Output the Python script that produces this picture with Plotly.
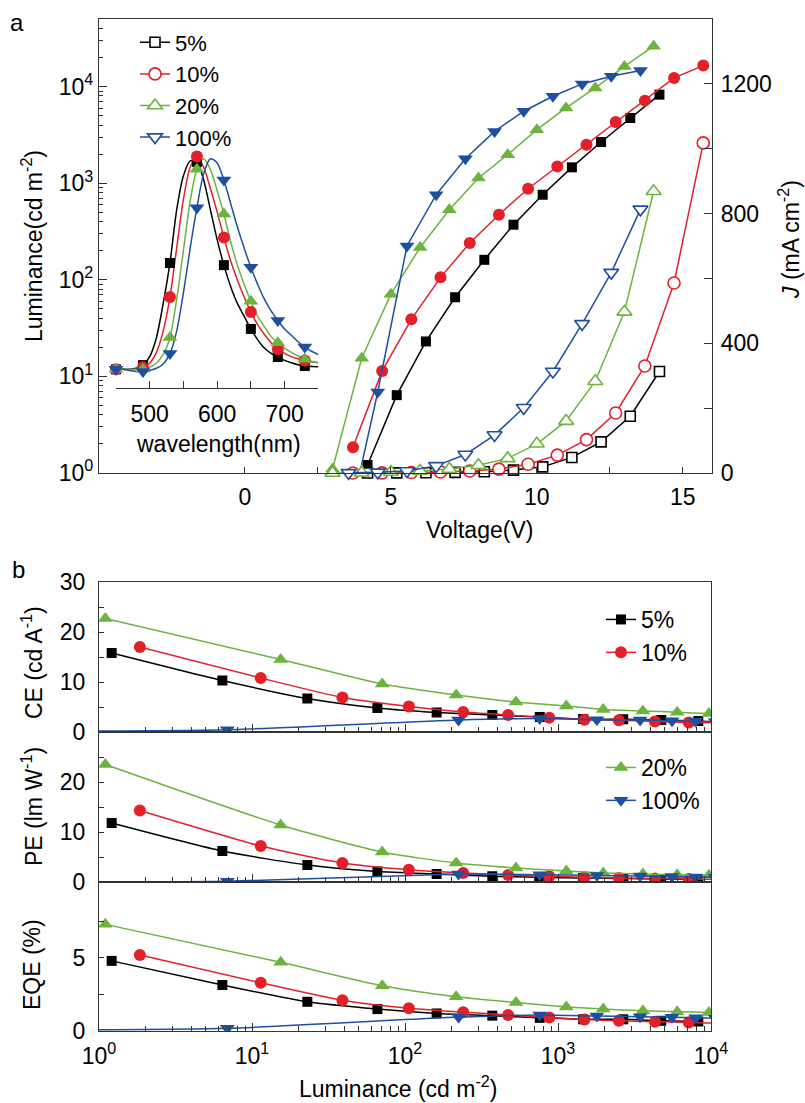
import plotly.graph_objects as go

# ---------------- data: panel a (J-V-L) ----------------
V_5 = [4.2, 5.2, 6.2, 7.2, 8.2, 9.2, 10.2, 11.2, 12.2, 13.2, 14.2]
L_5 = [1.21, 6.4, 23, 66, 161, 372, 760, 1460, 2670, 4730, 8260]
J_5 = [0, 0.5, 1, 2, 4, 9, 19, 48, 96, 175, 313]

V_10 = [3.7, 4.7, 5.7, 6.7, 7.7, 8.7, 9.7, 10.7, 11.7, 12.7, 13.7, 14.7, 15.7]
L_10 = [1.85, 11.4, 39, 106, 240, 472, 877, 1490, 2500, 4300, 7160, 12300, 16500]
J_10 = [0, 0.5, 1.5, 3, 6, 12, 27, 55, 103, 185, 330, 586, 1018]

V_20 = [3.0, 4.0, 5.0, 6.0, 7.0, 8.0, 9.0, 10.0, 11.0, 12.0, 13.0, 14.0]
L_20 = [1.1, 15.4, 71, 216, 531, 1133, 1974, 3585, 6010, 9690, 16200, 26200]
J_20 = [0, 1, 3, 6, 12, 24, 45, 90, 160, 283, 497, 869]

V_100 = [3.55, 4.55, 5.55, 6.55, 7.55, 8.55, 9.55, 10.55, 11.55, 12.55, 13.55]
L_100 = [0.3, 6.9, 224, 760, 1795, 3440, 5560, 7940, 10670, 12800, 14650]
J_100 = [0.5, 2, 6, 22, 57, 117, 201, 313, 460, 618, 813]

# ---------------- data: inset EL spectra (normalized) ----------------
WL = list(range(450, 751, 10))
S_5 = [0, 0, 0, 0.005, 0.02, 0.06, 0.15, 0.31, 0.5, 0.75, 0.91, 0.98, 0.975, 0.89, 0.75, 0.61,
       0.49, 0.39, 0.31, 0.25, 0.19, 0.14, 0.10, 0.075, 0.058, 0.042, 0.031, 0.022, 0.016, 0.013, 0.012]
S_10 = [0, 0, 0, 0, 0.01, 0.03, 0.08, 0.18, 0.34, 0.57, 0.80, 0.95, 1.0, 0.95, 0.85, 0.74,
        0.62, 0.51, 0.42, 0.34, 0.27, 0.21, 0.165, 0.125, 0.095, 0.075, 0.06, 0.05, 0.042, 0.036, 0.032]
S_20 = [0, 0, 0, 0, 0, 0.01, 0.03, 0.07, 0.15, 0.33, 0.56, 0.79, 0.94, 0.99, 0.94, 0.84,
        0.73, 0.60, 0.49, 0.40, 0.32, 0.25, 0.20, 0.155, 0.125, 0.10, 0.08, 0.063, 0.048, 0.038, 0.03]
S_100 = [0, 0, -0.005, -0.01, -0.01, -0.005, 0.005, 0.025, 0.075, 0.18, 0.36, 0.57, 0.76, 0.92, 0.99, 0.97,
         0.89, 0.78, 0.67, 0.57, 0.48, 0.40, 0.33, 0.275, 0.23, 0.19, 0.16, 0.13, 0.105, 0.085, 0.07]

# ---------------- data: panel b (efficiencies vs luminance) ----------------
CE_5 = [15.8, 10.3, 6.7, 4.8, 3.9, 3.4, 3.0, 2.6, 2.55, 2.4, 2.2]
CE_10 = [17.0, 10.8, 6.9, 5.1, 4.0, 3.4, 2.85, 2.45, 2.35, 2.1, 1.9, 1.8, 1.7]
CE_20 = [22.7, 14.5, 9.6, 7.4, 6.0, 5.2, 4.5, 4.2, 3.95, 3.7, 3.5, 3.3]
CE_100 = [0.12, 0.45, 2.4, 2.7, 2.45, 2.4, 2.25, 2.15, 2.1, 2.05, 2.0]

PE_5 = [11.8, 6.2, 3.4, 2.1, 1.6, 1.15, 0.95, 0.8, 0.7, 0.6, 0.5]
PE_10 = [14.3, 7.2, 3.8, 2.45, 1.8, 1.4, 1.15, 0.95, 0.8, 0.7, 0.6, 0.5, 0.45]
PE_20 = [23.5, 11.4, 6.0, 3.8, 2.8, 2.2, 1.8, 1.6, 1.45, 1.35, 1.2, 1.1]
PE_100 = [0.05, 0.15, 1.6, 1.45, 1.3, 1.2, 1.1, 1.0, 0.95, 0.9, 0.85]

EQE_5 = [4.8, 3.15, 2.0, 1.5, 1.2, 1.05, 0.9, 0.8, 0.8, 0.7, 0.65]
EQE_10 = [5.2, 3.3, 2.1, 1.55, 1.28, 1.1, 0.92, 0.78, 0.7, 0.64, 0.58, 0.53, 0.5]
EQE_20 = [7.3, 4.7, 3.1, 2.35, 1.95, 1.65, 1.5, 1.38, 1.32, 1.27, 1.2, 1.15]
EQE_100 = [0.05, 0.18, 0.95, 1.1, 1.03, 0.98, 0.94, 0.91, 0.88, 0.85, 0.82]

NAMES = ['5%', '10%', '20%', '100%']
COLORS = ['#000000', '#E3202A', '#6CB33F', '#1F4FA0']
SYMBOLS = ['square', 'circle', 'triangle-up', 'triangle-down']
MSIZE = [10, 12, 13, 13]

# ---------------- layout helpers ----------------
W, H = 805, 1103
def px(x): return x / W
def py(y): return 1 - y / H

FONT = 'Liberation Sans, Arial, Helvetica, sans-serif'
FS = 23
AX = '#333333'
TF = dict(family=FONT, size=FS, color='black')

fig = go.Figure()

Vs = [V_5, V_10, V_20, V_100]
Ls = [L_5, L_10, L_20, L_100]
Js = [J_5, J_10, J_20, J_100]
Ss = [S_5, S_10, S_20, S_100]
CEs = [CE_5, CE_10, CE_20, CE_100]
PEs = [PE_5, PE_10, PE_20, PE_100]
EQEs = [EQE_5, EQE_10, EQE_20, EQE_100]

# panel a: luminance (filled markers)
for i in range(4):
    fig.add_trace(go.Scatter(x=Vs[i], y=Ls[i], xaxis='x', yaxis='y', mode='lines+markers',
                             line=dict(color=COLORS[i], width=1.5),
                             marker=dict(symbol=SYMBOLS[i], size=MSIZE[i], color=COLORS[i], line=dict(width=0)),
                             showlegend=False, name=NAMES[i]))
# panel a: current density (open markers)
for i in range(4):
    fig.add_trace(go.Scatter(x=Vs[i], y=Js[i], xaxis='x', yaxis='y2', mode='lines+markers',
                             line=dict(color=COLORS[i], width=1.5),
                             marker=dict(symbol=SYMBOLS[i], size=MSIZE[i], color='white',
                                         line=dict(width=1.6, color=COLORS[i])),
                             cliponaxis=False, showlegend=True, legend='legend', name=NAMES[i]))
# inset spectra
for i in range(4):
    fig.add_trace(go.Scatter(x=WL, y=Ss[i], xaxis='x3', yaxis='y3', mode='lines',
                             line=dict(color=COLORS[i], width=1.5, shape='spline', smoothing=0.8),
                             showlegend=False, hoverinfo='skip'))
for i in range(4):
    fig.add_trace(go.Scatter(x=WL[::4], y=Ss[i][::4], xaxis='x3', yaxis='y3', mode='markers',
                             marker=dict(symbol=SYMBOLS[i], size=MSIZE[i], color=COLORS[i], line=dict(width=0)),
                             cliponaxis=False, showlegend=False, name=NAMES[i]))

# panel b
for i in range(4):
    leg = 'legend2' if i < 2 else 'legend3'
    for k, (vals, xa, ya) in enumerate([(CEs, 'x4', 'y4'), (PEs, 'x5', 'y5'), (EQEs, 'x6', 'y6')]):
        fig.add_trace(go.Scatter(x=Ls[i], y=vals[i], xaxis=xa, yaxis=ya, mode='lines+markers',
                                 line=dict(color=COLORS[i], width=1.5, shape='spline', smoothing=0.6),
                                 marker=dict(symbol=SYMBOLS[i], size=MSIZE[i], color=COLORS[i], line=dict(width=0)),
                                 showlegend=(k == 0), legend=leg, name=NAMES[i]))

log_minor_a = [m * 10 ** k for k in range(0, 5) for m in range(2, 10) if m * 10 ** k < 50000]
log_minor_b = [m * 10 ** k for k in range(0, 4) for m in range(2, 10)]
sup = ['10<sup>%d</sup>' % k for k in range(5)]

base = dict(showline=True, linecolor=AX, linewidth=1.3, showgrid=False, zeroline=False,
            ticks='inside', tickcolor=AX, tickwidth=1.3, tickfont=TF, automargin=False)

def mn(vals, ln):
    return dict(ticks='inside', ticklen=ln, tickvals=vals, tickcolor=AX, tickwidth=1.3, showgrid=False)

layout = dict(
    template='none',
    width=W, height=H, margin=dict(l=0, r=0, t=0, b=0, pad=0, autoexpand=False),
    paper_bgcolor='white', plot_bgcolor='white',
    font=dict(family=FONT, size=FS, color='black'),
    xaxis=dict(base, domain=[px(99), px(712)], anchor='y', range=[-5, 16], mirror=True, ticklen=6,
               tickvals=[0, 5, 10, 15], ticktext=['0', '5', '10', '15'], ticklabelstandoff=3,
               minor=mn([2.5, 7.5, 12.5], 6)),
    yaxis=dict(base, domain=[py(473), py(19)], anchor='x', type='log', range=[0, 4.7], ticklen=8,
               tickvals=[1, 10, 100, 1000, 10000], ticktext=sup, ticklabelstandoff=0,
               minor=mn(log_minor_a, 4)),
    yaxis2=dict(base, overlaying='y', side='right', anchor='x', range=[0, 1400], ticklen=8,
                tickvals=[0, 400, 800, 1200], ticktext=['0', '400', '800', '1200'],
                ticklabelstandoff=3, minor=mn([200, 600, 1000], 8)),
    xaxis3=dict(base, domain=[px(116), px(318.3)], anchor='y3', range=[450, 750], ticklen=7,
                tickvals=[500, 600, 700], ticktext=['500', '600', '700'],
                ticklabelstandoff=5, minor=mn([450, 550, 650, 750], 7)),
    yaxis3=dict(domain=[py(388.3), py(140)], anchor='x3', range=[-0.089, 1.078], visible=False),
    legend=dict(x=px(135), y=py(21.5), xanchor='left', yanchor='top',
                font=dict(family=FONT, size=22, color='black'), bgcolor='rgba(0,0,0,0)',
                borderwidth=0, tracegroupgap=0),
    legend2=dict(x=px(601), y=py(598), xanchor='left', yanchor='top', font=TF, bgcolor='rgba(0,0,0,0)',
                 borderwidth=0),
    legend3=dict(x=px(601), y=py(746), xanchor='left', yanchor='top', font=TF, bgcolor='rgba(0,0,0,0)',
                 borderwidth=0),
)

xb = dict(base, type='log', range=[0, 4], domain=[px(99), px(711)], mirror=True, ticklen=8,
          tickvals=[1, 10, 100, 1000, 10000], ticktext=sup, minor=mn(log_minor_b, 5))
layout['xaxis4'] = dict(xb, anchor='y4', showticklabels=False, matches='x6')
layout['xaxis5'] = dict(xb, anchor='y5', showticklabels=False, matches='x6')
layout['xaxis6'] = dict(xb, anchor='y6', ticklabelstandoff=4)
yb = dict(base, mirror=True, ticklen=5, ticklabelstandoff=8)
layout['yaxis4'] = dict(yb, domain=[py(732), py(582)], anchor='x4', range=[0, 30],
                        tickvals=[0, 10, 20, 30], ticktext=['0', '10', '20', '30'], minor=mn([5, 15, 25], 5))
layout['yaxis5'] = dict(yb, domain=[py(882), py(732)], anchor='x5', range=[0, 30],
                        tickvals=[0, 10, 20], ticktext=['0', '10', '20'], minor=mn([5, 15, 25], 5))
layout['yaxis6'] = dict(yb, domain=[py(1031), py(882)], anchor='x6', range=[0, 10.2],
                        tickvals=[0, 5], ticktext=['0', '5'], minor=mn([2.5, 7.5], 5))

def ann(text, x, y, angle=0, size=FS):
    return dict(text=text, x=px(x), y=py(y), xref='paper', yref='paper', showarrow=False,
                xanchor='center', yanchor='middle', textangle=angle,
                font=dict(family=FONT, size=size, color='black'))

layout['annotations'] = [
    ann('a', 17, 23, size=24),
    ann('b', 18, 569, size=24),
    ann('Luminance(cd m<sup>-2</sup>)', 32, 246, -90),
    ann('<i>J</i> (mA cm<sup>-2</sup>)', 789, 240, -90),
    ann('Voltage(V)', 479, 530),
    ann('wavelength(nm)', 218, 444),
    ann('CE (cd A<sup>-1</sup>)', 32, 663, -90),
    ann('PE (lm W<sup>-1</sup>)', 32, 807, -90),
    ann('EQE (%)', 32, 965, -90),
    ann('Luminance (cd m<sup>-2</sup>)', 398, 1087),
]

fig.update_layout(layout)
fig.write_html('out.html', config={'displayModeBar': False},
               post_script="document.body.style.margin='0px';document.body.style.padding='0px';")
